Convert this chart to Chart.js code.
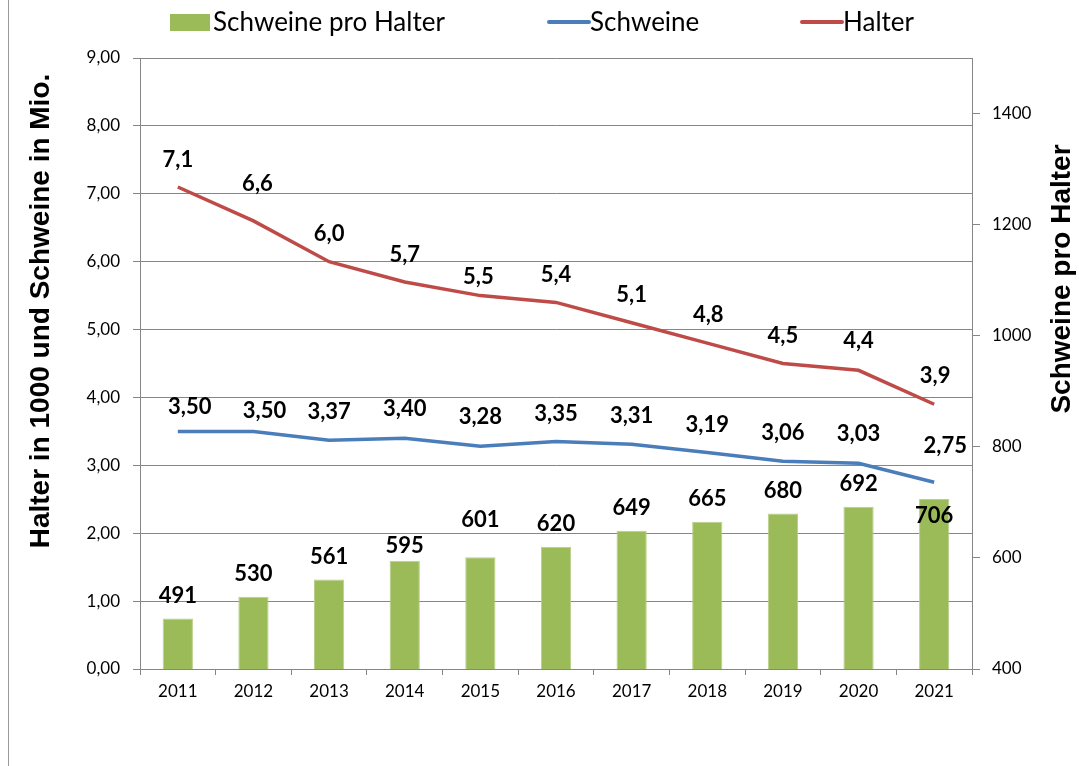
<!DOCTYPE html>
<html><head><meta charset="utf-8">
<script src="https://cdn.jsdelivr.net/npm/chart.js@4.4.0/dist/chart.umd.min.js"></script>
<style>html,body{margin:0;padding:0;background:#fff}canvas{display:block}</style>
</head><body>
<canvas id="c" width="1079" height="766"></canvas>
<script>
// ---- data ----
const years = ['2011','2012','2013','2014','2015','2016','2017','2018','2019','2020','2021'];
const schweineProHalter = [491,530,561,595,601,620,649,665,680,692,706];
const schweine = [3.50,3.50,3.37,3.40,3.28,3.35,3.31,3.19,3.06,3.03,2.75];
const halter = [7.1,6.6,6.0,5.7,5.5,5.4,5.1,4.8,4.5,4.4,3.9];
const leftTicks = [0,1,2,3,4,5,6,7,8,9];
const rightTicks = [400,600,800,1000,1200,1400];

// ---- label nudges (layout only) ----
const barLabelShift = [[0,-23],[0,-23],[0,-23],[0,-15],[0,-37],[0,-23],[0,-23],[0,-23],[0,-23],[0,-23],[0,17]];
const schweineLabelShift = [[12,-24],[11,-20],[0,-28],[0,-29],[0,-29],[0,-28],[0,-28],[0,-28],[0,-28],[0,-29],[11,-36]];
const halterLabelShift = [[0,-27],[4,-37],[0,-28],[0,-27],[-2,-19],[0,-27],[0,-28],[1,-28],[0,-28],[0,-29],[1,-28]];

const GRID = '#868686';
const fmtComma = (v, d) => v.toFixed(d).replace('.', ',');

const decor = {
  id: 'decor',
  beforeDraw(chart) {
    const ctx = chart.ctx;
    ctx.save();
    ctx.fillStyle = '#fff';
    ctx.fillRect(0, 0, chart.width, chart.height);
    ctx.strokeStyle = '#9a9a9a';
    ctx.lineWidth = 1;
    ctx.beginPath(); ctx.moveTo(8.5, 0); ctx.lineTo(8.5, chart.height); ctx.stroke();
    ctx.restore();
  },
  afterDatasetsDraw(chart) {
    const ctx = chart.ctx;
    ctx.save();
    ctx.font = 'bold 22px Lato';
    ctx.fillStyle = '#000';
    ctx.textAlign = 'center';
    ctx.textBaseline = 'middle';
    const specs = [
      {ds: 0, shift: barLabelShift, fmt: v => String(v)},
      {ds: 1, shift: schweineLabelShift, fmt: v => fmtComma(v, 2)},
      {ds: 2, shift: halterLabelShift, fmt: v => fmtComma(v, 1)}
    ];
    specs.forEach(s => {
      const meta = chart.getDatasetMeta(s.ds);
      const data = chart.data.datasets[s.ds].data;
      meta.data.forEach((el, i) => {
        const [dx, dy] = s.shift[i];
        ctx.fillText(s.fmt(data[i]), el.x + dx, el.y + dy);
      });
    });
    ctx.restore();
  },
  afterDraw(chart) {
    const ctx = chart.ctx;
    ctx.save();
    // axis titles
    ctx.fillStyle = '#000';
    ctx.font = 'bold 28px "Liberation Sans"';
    ctx.textAlign = 'center';
    ctx.textBaseline = 'middle';
    ctx.save(); ctx.translate(41, 311); ctx.rotate(-Math.PI / 2);
    ctx.fillText('Halter in 1000 und Schweine in Mio.', 0, 0); ctx.restore();
    ctx.save(); ctx.translate(1062, 279); ctx.rotate(-Math.PI / 2);
    ctx.fillText('Schweine pro Halter', 0, 0); ctx.restore();
    // legend
    const items = [
      {ds: 0, x: 170, kind: 'box'},
      {ds: 1, x: 547, kind: 'line'},
      {ds: 2, x: 800, kind: 'line'}
    ];
    const ly = 22;
    ctx.font = '26px Lato';
    ctx.textAlign = 'left';
    items.forEach(it => {
      const d = chart.data.datasets[it.ds];
      if (it.kind === 'box') {
        ctx.fillStyle = d.backgroundColor;
        ctx.fillRect(it.x, ly - 8, 40, 17);
      } else {
        ctx.strokeStyle = d.borderColor;
        ctx.lineWidth = 4;
        ctx.lineCap = 'round';
        ctx.beginPath(); ctx.moveTo(it.x + 2, ly); ctx.lineTo(it.x + 42, ly); ctx.stroke();
      }
      ctx.fillStyle = '#000';
      ctx.fillText(d.label, it.x + 43, ly + 1);
    });
    ctx.restore();
  }
};

new Chart(document.getElementById('c'), {
  type: 'bar',
  data: {
    labels: years,
    datasets: [
      {type: 'bar', label: 'Schweine pro Halter', data: schweineProHalter, yAxisID: 'y2',
       backgroundColor: '#9BBB59', borderColor: '#B9D08A', borderWidth: 1,
       barPercentage: 0.5, categoryPercentage: 0.8, order: 3},
      {type: 'line', label: 'Schweine', data: schweine, yAxisID: 'y',
       borderColor: '#4A7EBB', backgroundColor: '#4A7EBB', borderWidth: 3.5,
       pointRadius: 0, tension: 0, order: 2},
      {type: 'line', label: 'Halter', data: halter, yAxisID: 'y',
       borderColor: '#BE4B48', backgroundColor: '#BE4B48', borderWidth: 3.5,
       pointRadius: 0, tension: 0, order: 1}
    ]
  },
  options: {
    responsive: false,
    animation: false,
    layout: {padding: {top: 58, left: 0, right: 0, bottom: 0}},
    plugins: {legend: {display: false}, tooltip: {enabled: false}},
    scales: {
      x: {
        offset: true,
        grid: {offset: true, drawOnChartArea: false, drawTicks: true, tickLength: 6, color: GRID},
        border: {color: GRID, width: 1},
        ticks: {font: {family: 'Lato', size: 17}, color: '#000', padding: 6, maxRotation: 0},
        afterFit: s => { s.height = 97; }
      },
      y: {
        position: 'left', min: 0, max: 9,
        afterBuildTicks: s => { s.ticks = leftTicks.map(v => ({value: v})); },
        grid: {color: GRID, tickLength: 7, drawTicks: true},
        border: {color: GRID, width: 1},
        ticks: {font: {family: 'Lato', size: 17}, color: '#000', padding: 13,
                callback: v => fmtComma(v, 2)},
        afterFit: s => { s.width = 140; }
      },
      y2: {
        position: 'right', min: 400, max: 1500,
        afterBuildTicks: s => { s.ticks = rightTicks.map(v => ({value: v})); },
        grid: {drawOnChartArea: false, color: GRID, tickLength: 8, drawTicks: true},
        border: {color: GRID, width: 1},
        ticks: {font: {family: 'Lato', size: 17}, color: '#000', padding: 12,
                callback: v => String(v)},
        afterFit: s => { s.width = 107; }
      }
    }
  },
  plugins: [decor]
});
</script>
</body></html>
